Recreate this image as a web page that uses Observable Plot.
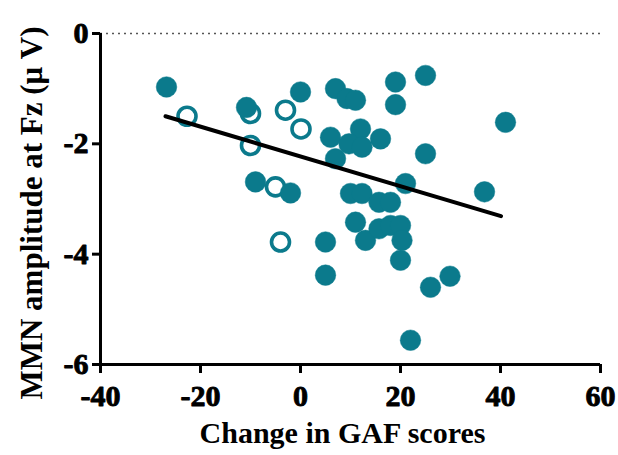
<!DOCTYPE html>
<html>
<head>
<meta charset="utf-8">
<script src="https://cdn.jsdelivr.net/npm/d3@7"></script>
<script src="https://cdn.jsdelivr.net/npm/@observablehq/plot@0.6"></script>
<style>
  html, body { margin: 0; padding: 0; background: #fff; }
</style>
</head>
<body>
<div id="chart"></div>
<script>
// Filled circles
const filledX = [-26.8, -10.8, 0, 7, 9.3, 11, 19, 25, 19, 41, 6, 12, 9.7, 12.3, 16, 7, 25, 21, 36.8, -9, -2, 10, 12.3, 15.7, 18, 11, 13, 15.7, 18, 20, 20.3, 20, 5, 5, 26, 29.9, 22];
const filledY = [-0.97, -1.34, -1.06, -1.00, -1.18, -1.21, -0.88, -0.76, -1.29, -1.61, -1.88, -1.73, -2.00, -2.06, -1.91, -2.27, -2.18, -2.72, -2.87, -2.69, -2.89, -2.90, -2.90, -3.06, -3.06, -3.42, -3.75, -3.54, -3.48, -3.48, -3.75, -4.11, -3.78, -4.38, -4.60, -4.40, -5.56];
// Open circles
const openX = [-22.7, -10, -3, 0.1, -10, -5, -4];
const openY = [-1.50, -1.45, -1.39, -1.73, -2.03, -2.78, -3.78];
// Fitted regression line (end points)
const fitX = [-27, 40.1];
const fitY = [-1.50, -3.31];
// Ticks
const xTicks = [-40, -20, 0, 20, 40, 60];
const yTicks = [0, -2, -4, -6];
const xLabel = "Change in GAF scores";
const yLabel = "MMN amplitude at Fz (\u03BC V)";

const teal = "#0b7a8c";
const serif = "'Liberation Serif', 'Times New Roman', serif";
const filled = filledX.map((x, i) => ({x, y: filledY[i]}));
const open = openX.map((x, i) => ({x, y: openY[i]}));
const fit = fitX.map((x, i) => ({x, y: fitY[i]}));

const chart = Plot.plot({
  width: 618,
  height: 455,
  marginLeft: 100,
  marginRight: 18,
  marginTop: 33,
  marginBottom: 91,
  style: {fontFamily: serif, fontWeight: "bold", color: "#000", background: "#fff", overflow: "visible"},
  x: {domain: [-40, 60]},
  y: {domain: [-6, 0]},
  marks: [
    Plot.ruleY([0], {x1: -40, x2: 60, stroke: "#555", strokeWidth: 1.5, strokeDasharray: "2,4"}),
    Plot.dot(open, {x: "x", y: "y", r: 9, fill: "white", stroke: teal, strokeWidth: 3.6}),
    Plot.dot(filled, {x: "x", y: "y", r: 10.3, fill: teal, stroke: teal, strokeWidth: 0.5}),
    Plot.line(fit, {x: "x", y: "y", stroke: "#000", strokeWidth: 4}),
    Plot.ruleX([-40], {y1: -6, y2: 0, stroke: "#000", strokeWidth: 3}),
    Plot.ruleY([-6], {x1: -40, x2: 60, stroke: "#000", strokeWidth: 3}),
    Plot.axisX({ticks: xTicks, tickSize: 9, strokeWidth: 3, tickFormat: () => "", label: null}),
    Plot.axisY({ticks: yTicks, tickSize: 8, strokeWidth: 3, tickFormat: () => "", label: null}),
    Plot.text(xTicks, {x: d => d, y: -6, text: d => String(d), dy: 20, lineAnchor: "top", textAnchor: "middle", fontSize: 30, fontWeight: "bold", fontFamily: serif, fill: "#000", stroke: "#000", strokeWidth: 0.9}),
    Plot.text(yTicks, {x: -40, y: d => d, text: d => String(d), dx: -12, lineAnchor: "middle", textAnchor: "end", fontSize: 30, fontWeight: "bold", fontFamily: serif, fill: "#000", stroke: "#000", strokeWidth: 0.9}),
    Plot.text([xLabel], {frameAnchor: "bottom", dx: -8, dy: 69, lineAnchor: "middle", textAnchor: "middle", fontSize: 30, fontWeight: "bold", fontFamily: serif, fill: "#000"}),
    Plot.text([yLabel], {frameAnchor: "left", rotate: -90, dx: -68, dy: 14, lineAnchor: "middle", textAnchor: "middle", fontSize: 31, fontWeight: "bold", fontFamily: serif, fill: "#000"})
  ]
});
document.getElementById("chart").appendChild(chart);
</script>
</body>
</html>
